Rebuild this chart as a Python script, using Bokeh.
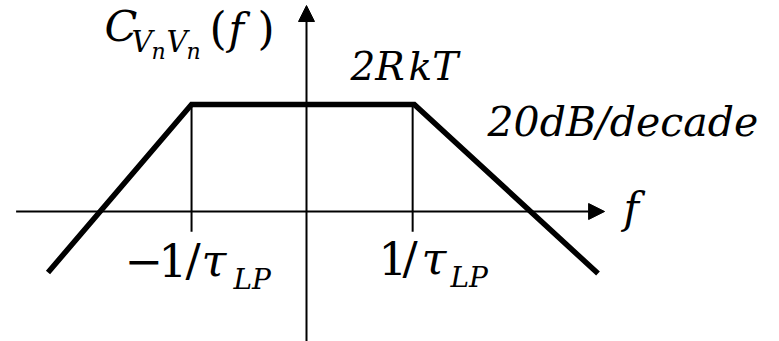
from bokeh.plotting import figure
from bokeh.models import Range1d, Label, Arrow, NormalHead
from bokeh.embed import file_html
from bokeh.resources import INLINE

# Asymptotic noise spectrum: flat band between the two corner frequencies,
# roll-off on either side (frequency in units of 1/tau_LP, level relative to 2RkT)
freq = [-2.35, -1.045, 0.98, 2.65]
level = [-0.57, 1.0, 1.0, -0.58]

# corner-frequency markers
corner_freqs = [-1.045, 0.965]
corner_marker_low = -0.19

# extent of the drawn axes
f_axis = [-2.64, 2.71]
s_axis = [-1.21, 1.925]

W, H = 779, 341
X_PER_PX = 1 / 110.0
Y_PER_PX = 1 / 107.0
x_start = -306 * X_PER_PX
y_end = 211 * Y_PER_PX

p = figure(width=W, height=H, output_backend="svg", toolbar_location=None,
           x_range=Range1d(x_start, x_start + W * X_PER_PX),
           y_range=Range1d(y_end - H * Y_PER_PX, y_end),
           x_axis_type=None, y_axis_type=None, min_border=0)
p.grid.visible = False
p.outline_line_color = None
p.background_fill_color = "white"
p.border_fill_color = "white"


def at(px, py):
    """Screen position (from top-left) to data coordinates."""
    return x_start + px * X_PER_PX, y_end - py * Y_PER_PX


# axes with arrow heads
p.add_layout(Arrow(x_start=f_axis[0], y_start=0, x_end=f_axis[1], y_end=0,
                   line_width=2, line_color="black",
                   end=NormalHead(size=16, fill_color="black", line_color="black", line_width=1)))
p.add_layout(Arrow(x_start=0, y_start=s_axis[0], x_end=0, y_end=s_axis[1],
                   line_width=2, line_color="black",
                   end=NormalHead(size=16, fill_color="black", line_color="black", line_width=1)))

# corner markers
for fc in corner_freqs:
    p.line([fc, fc], [corner_marker_low, 1.0], line_width=2, line_color="black")

# spectrum
p.line(freq, level, line_width=5.5, line_color="black", line_join="miter", line_cap="butt")

FONT = "DejaVu Serif"
BASELINE_SHIFT = 0.4  # raise labels so the glyph baseline lands on the given row


def piece(px, py, text, size, style="italic"):
    x, y = at(px, py - BASELINE_SHIFT * size)
    p.add_layout(Label(x=x, y=y, text=text, text_font=FONT, text_font_size=f"{size}px",
                       text_font_style=style, text_color="black",
                       text_baseline="alphabetic", text_align="left"))


# C_{VnVn}(f)
piece(104, 43, "C", 43)
piece(131, 53, "V", 29)
piece(151, 60, "n", 22)
piece(166, 53, "V", 29)
piece(186, 60, "n", 22)
piece(209, 46, "(", 44, "normal")
piece(228, 46, "f", 42)
piece(257, 46, ")", 44, "normal")

# plateau level and slope
piece(350, 82, "2R\u200akT", 39)
piece(487, 138, "20dB/decade", 41)

# frequency axis label
piece(623, 225, "f", 42)

# corner frequency labels
piece(124, 278, "\u2212", 46, "normal")
piece(158, 278, "1", 45, "normal")
piece(185, 278, "/", 45, "normal")
piece(201, 278, "\u03c4", 45)
piece(233, 290, "LP", 28)

piece(378, 276, "1", 45, "normal")
piece(402, 276, "/", 45, "normal")
piece(421, 276, "\u03c4", 45)
piece(450, 288, "LP", 28)

open("out.html", "w").write(file_html(p, INLINE))
